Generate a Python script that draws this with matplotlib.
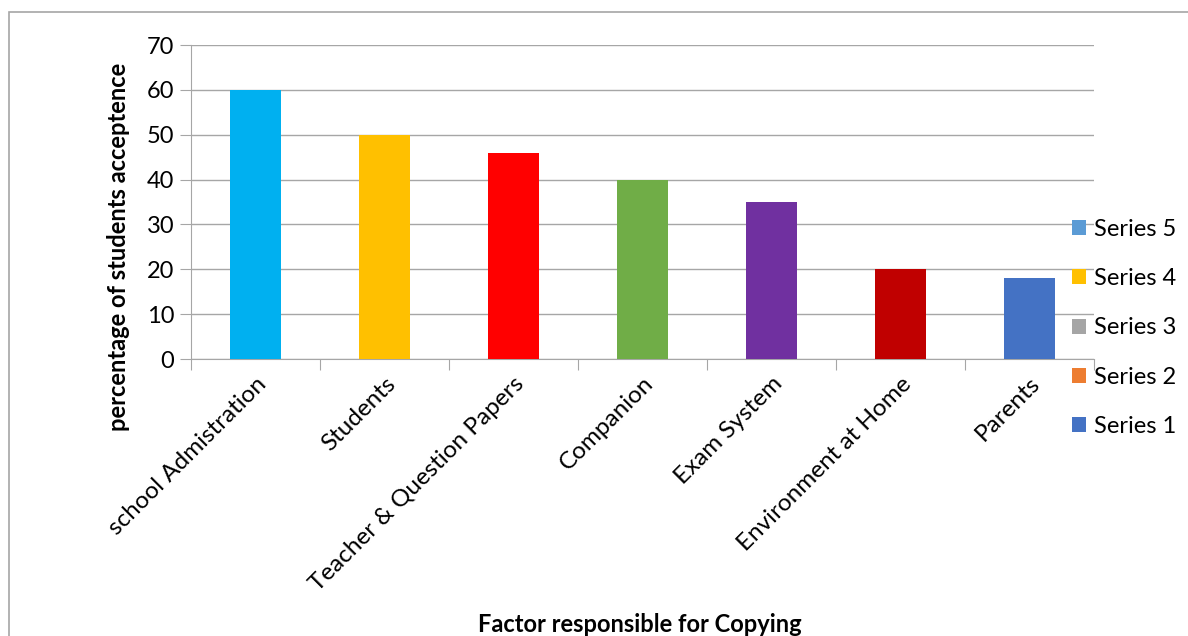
import matplotlib
matplotlib.use("Agg")
import matplotlib.pyplot as plt
from matplotlib.patches import Patch, Rectangle

plt.rcParams['font.family'] = ['Lato', 'DejaVu Sans']

categories = ["school Admistration", "Students", "Teacher & Question Papers",
              "Companion", "Exam System", "Environment at Home", "Parents"]
values = [60, 50, 46, 40, 35, 20, 18]
bar_colors = ["#00B0F0", "#FFC000", "#FF0000", "#70AD47", "#7030A0", "#C00000", "#4472C4"]
legend_labels = ["Series 5", "Series 4", "Series 3", "Series 2", "Series 1"]
legend_colors = ["#5B9BD5", "#FFC000", "#A5A5A5", "#ED7D31", "#4472C4"]
yticks = [0, 10, 20, 30, 40, 50, 60, 70]

FS = 17

fig = plt.figure(figsize=(11.88, 6.36), dpi=100)
# outer border
fig.patches.append(Rectangle((9/1188, -0.05), 1.2, 1 - 12/636 + 0.05,
                             transform=fig.transFigure, fill=False,
                             edgecolor="#A6A6A6", linewidth=1.2))

ax = fig.add_axes([191/1188, 1 - 359/636, (1094 - 191)/1188, (359 - 45)/636])
x = list(range(len(categories)))
ax.bar(x, values, width=0.4, color=bar_colors, zorder=3)
ax.set_xlim(-0.5, len(categories) - 0.5)
ax.set_ylim(0, 70)
ax.set_yticks(yticks)
ax.set_yticklabels([str(v) for v in yticks], fontsize=FS)
ax.yaxis.grid(True, color="#A6A6A6", linewidth=1, zorder=0)
ax.set_axisbelow(True)
for s in ["top", "right"]:
    ax.spines[s].set_visible(False)
ax.spines["left"].set_color("#A6A6A6")
ax.spines["bottom"].set_color("#A6A6A6")
ax.tick_params(axis="y", length=8, color="#A6A6A6", pad=4)
ax.set_xticks([i - 0.5 for i in range(len(categories) + 1)], minor=False)
ax.set_xticklabels([])
ax.set_xticks(x, minor=True)
ax.set_xticklabels(categories, minor=True, rotation=45, ha="right",
                   rotation_mode="anchor", fontsize=17.5)
ax.tick_params(axis="x", which="major", length=8, color="#A6A6A6")
ax.tick_params(axis="x", which="minor", length=0, pad=10)

fig.text(118/1188, 1 - 247/636, "percentage of students acceptence", fontsize=FS,
         fontweight="bold", rotation=90, ha="center", va="center")
fig.text(640/1188, 1 - 625/636, "Factor responsible for Copying", fontsize=FS,
         fontweight="bold", ha="center", va="center")

handles = [Patch(facecolor=c, edgecolor="none") for c in legend_colors]
leg = fig.legend(handles, legend_labels, loc="center left",
                 bbox_to_anchor=(1051/1188, 1 - 328/636), frameon=False,
                 fontsize=FS, handlelength=0.6, handleheight=0.6,
                 handletextpad=0.3, labelspacing=1.2)

fig.savefig("out.png", dpi=100)
